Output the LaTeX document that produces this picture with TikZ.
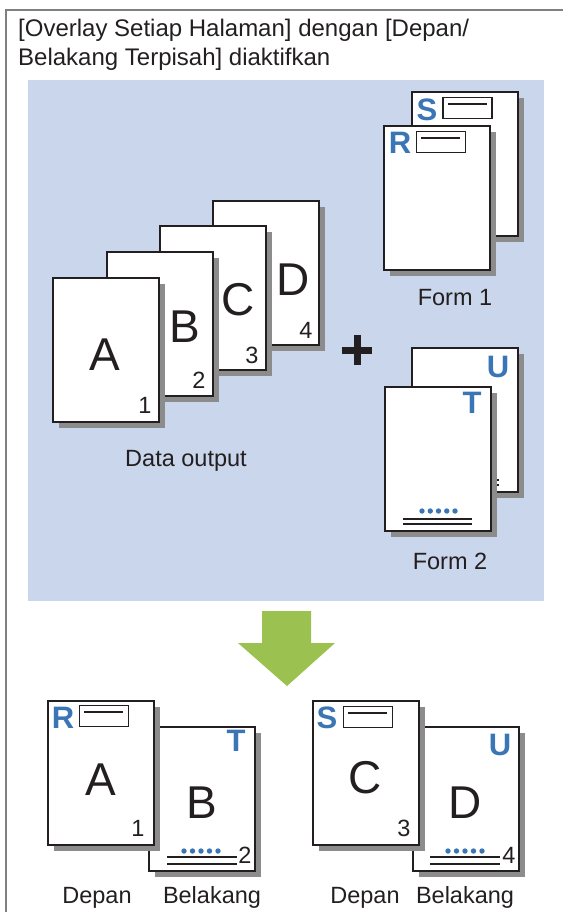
\documentclass[tikz,border=0pt]{standalone}
\usepackage{fontspec}
\setmainfont{Liberation Sans}
\usetikzlibrary{shadows,calc}
\definecolor{framegray}{RGB}{128,128,128}
\definecolor{panelblue}{RGB}{201,214,235}
\definecolor{shadowgray}{RGB}{140,140,140}
\definecolor{ink}{RGB}{35,31,32}
\definecolor{letterblue}{RGB}{58,117,181}
\definecolor{arrowgreen}{RGB}{155,193,80}
\begin{document}
\begin{tikzpicture}[x=1pt,y=-1pt,
  page/.style={draw=ink, line width=1.8pt, fill=white, minimum width=106pt, minimum height=144pt,
    inner sep=0pt, outer sep=0pt, anchor=north west,
    drop shadow={shadow xshift=6pt, shadow yshift=-6pt, fill=shadowgray, opacity=1}},
  bigletter/.style={text=ink, inner sep=0pt, font=\fontsize{46}{50}\selectfont},
  num/.style={text=ink, inner sep=0pt, font=\fontsize{23.5}{28}\selectfont},
  label/.style={text=ink, inner sep=0pt, anchor=base, font=\fontsize{23.5}{28}\selectfont},
  title/.style={text=ink, inner sep=0pt, anchor=base west, font=\fontsize{24}{29}\selectfont},
  blueletter/.style={text=letterblue, inner sep=0pt, font=\bfseries\fontsize{31}{34}\selectfont},
  headbox/.style={draw=ink, line width=1.8pt, fill=white, minimum width=49pt, minimum height=21pt, inner sep=0pt},
  headline/.style={draw=ink, line width=1.8pt},
  dot/.style={fill=letterblue, circle, minimum size=5.4pt, inner sep=0pt},
  footline/.style={draw=ink, line width=1.4pt}
]
\useasboundingbox (0,0) rectangle (563,912);
% outer frame
\draw[framegray, line width=2pt] (6,912) -- (6,10) -- (563,10);
% title
\node[title] (t1) at (18,37) {[Overlay Setiap Halaman] dengan [Depan/};
\node[title] (t2) at (18,66) {Belakang Terpisah] diaktifkan};
% panel
\node[fill=panelblue, minimum width=516pt, minimum height=521pt, inner sep=0pt, anchor=north west] (panel) at (28,80) {};

% ---- Data output stack ----
\node[page] (pD) at (213,201) {};
\node[bigletter] (lD) at (293,280) {D};
\node[num] (nD) at (306,330) {4};
\node[page] (pC) at (160,226) {};
\node[bigletter] (lC) at (238,300) {C};
\node[num] (nC) at (252,355) {3};
\node[page] (pB) at (107,252) {};
\node[bigletter] (lB) at (185,327) {B};
\node[num] (nB) at (199,380) {2};
\node[page] (pA) at (53,278) {};
\node[bigletter] (lA) at (105,355) {A};
\node[num] (nA) at (145,405) {1};
\node[label] (ldata) at (186,466) {Data output};

% plus
\fill[ink] (342,346.5) rectangle (372,353.5);
\fill[ink] (353.5,335) rectangle (360.5,365);

% ---- Form 1 ----
\node[page] (pS) at (412,92) {};
\node[blueletter] (lS) at (427,110) {S};
\node[headbox] (bS) at (467.5,108) {};
\draw[headline] (448,104) -- (487,104);
\node[page] (pR) at (384,126) {};
\node[blueletter] (lR) at (400,143) {R};
\node[headbox] (bR) at (441,142) {};
\draw[headline] (421,138) -- (460,138);
\node[label] (lf1) at (455,305) {Form 1};

% ---- Form 2 ----
\node[page] (pU) at (412,348) {};
\node[blueletter] (lU) at (498,367) {U};
\foreach \i in {0,...,4} \node[dot] (dU\i) at (449+8.25*\i,472) {};
\draw[footline] (430,480) -- (499,480) (430,485) -- (499,485);
\node[page] (pT) at (385,387) {};
\node[blueletter] (lT) at (472,403) {T};
\foreach \i in {0,...,4} \node[dot] (dT\i) at (422+8.25*\i,511) {};
\draw[footline] (403,519) -- (472,519) (403,524) -- (472,524);
\node[label] (lf2) at (450,569) {Form 2};

% ---- green arrow ----
\fill[arrowgreen] (262,611) -- (311,611) -- (311,643) -- (335,643) -- (287,686) -- (238,643) -- (262,643) -- cycle;

% ---- Result 1: A front, B back ----
\node[page] (rB) at (149,727) {};
\node[blueletter] (rT) at (236,741) {T};
\node[bigletter] (rlB) at (202,803) {B};
\foreach \i in {0,...,4} \node[dot] (rdB\i) at (184+8.5*\i,851) {};
\draw[footline] (167,857) -- (237,857) (167,864) -- (237,864);
\node[num] (rnB) at (245,855) {2};
\node[page] (rA) at (48,701) {};
\node[blueletter] (rR) at (63,718) {R};
\node[headbox] (rbR) at (104,716) {};
\draw[headline] (84,712) -- (123,712);
\node[bigletter] (rlA) at (101,780) {A};
\node[num] (rnA) at (138,828) {1};
\node[label] (dep1) at (97,903) {Depan};
\node[label] (bel1) at (212,903) {Belakang};

% ---- Result 2: C front, D back ----
\node[page] (rD) at (413,727) {};
\node[blueletter] (rU) at (500,745) {U};
\node[bigletter] (rlD) at (465,803) {D};
\foreach \i in {0,...,4} \node[dot] (rdD\i) at (448+8.5*\i,851) {};
\draw[footline] (430,857) -- (500,857) (430,864) -- (500,864);
\node[num] (rnD) at (509,855) {4};
\node[page] (rC) at (313,701) {};
\node[blueletter] (rS) at (327,718) {S};
\node[headbox] (rbS) at (368,717) {};
\draw[headline] (348,713) -- (387,713);
\node[bigletter] (rlC) at (365,778) {C};
\node[num] (rnC) at (404,828) {3};
\node[label] (dep2) at (365,903) {Depan};
\node[label] (bel2) at (465,903) {Belakang};
\end{tikzpicture}
\end{document}
